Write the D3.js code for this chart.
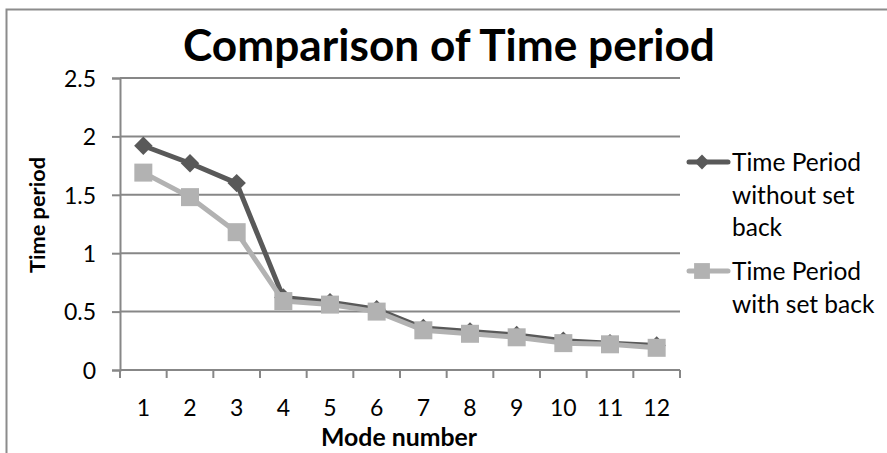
<!DOCTYPE html>
<html>
<head>
<meta charset="utf-8">
<script src="https://cdn.jsdelivr.net/npm/d3@7"></script>
<style>
  html, body { margin: 0; padding: 0; background: #fff; }
  svg { display: block; }
  text { font-family: Lato, "Open Sans", sans-serif; fill: #000; }
</style>
</head>
<body>
<svg id="chart" width="887" height="453"></svg>
<script>
const modes = ["1","2","3","4","5","6","7","8","9","10","11","12"];
const withoutSetBack = [1.92, 1.77, 1.60, 0.62, 0.58, 0.52, 0.36, 0.33, 0.30, 0.25, 0.23, 0.21];
const withSetBack    = [1.69, 1.48, 1.18, 0.59, 0.56, 0.50, 0.34, 0.31, 0.28, 0.23, 0.22, 0.19];
const yTicks = [0, 0.5, 1, 1.5, 2, 2.5];
const seriesNames = [["Time Period", "without set", "back"], ["Time Period", "with set back"]];
const chartTitle = "Comparison of Time period";
const xTitle = "Mode number";
const yTitle = "Time period";

const svg = d3.select("#chart");
const margin = {left: 120, right: 680, top: 78, bottom: 370};

// scale a text's font size so its rendered width matches a target width
function fitWidth(sel, target) {
  const n = sel.node();
  const w = n.getComputedTextLength();
  const fs = parseFloat(sel.attr("font-size"));
  sel.attr("font-size", (fs * target / w).toFixed(2));
  return sel;
}

// outer chart border
svg.append("rect").attr("x", 6.5).attr("y", 9.5).attr("width", 1000).attr("height", 1000)
  .attr("fill", "none").attr("stroke", "#8c8c8c").attr("stroke-width", 2);

const x = d3.scaleBand().domain(modes).range([margin.left, margin.right]);
const y = d3.scaleLinear().domain([0, 2.5]).range([margin.bottom, margin.top]);

const gridColor = "#878787";

// gridlines
svg.append("g").selectAll("line").data(yTicks.filter(d => d > 0)).join("line")
  .attr("x1", margin.left).attr("x2", margin.right)
  .attr("y1", d => y(d)).attr("y2", d => y(d))
  .attr("stroke", gridColor).attr("stroke-width", 2);

// y axis
const yAxis = svg.append("g").attr("transform", `translate(${margin.left},0)`)
  .call(d3.axisLeft(y).tickValues(yTicks).tickSize(8).tickPadding(16).tickFormat(d3.format("")));
yAxis.select(".domain").attr("stroke", gridColor).attr("stroke-width", 2);
yAxis.selectAll(".tick line").attr("stroke", gridColor).attr("stroke-width", 2);
yAxis.selectAll(".tick text").attr("font-size", 23).attr("font-family", "Lato, sans-serif").attr("fill", "#000").attr("dy", "0.36em");

// x axis
const xAxis = svg.append("g").attr("transform", `translate(0,${margin.bottom})`)
  .call(d3.axisBottom(x).tickSize(0).tickPadding(30));
xAxis.select(".domain").remove();
xAxis.append("line").attr("x1", margin.left).attr("x2", margin.right).attr("stroke", gridColor).attr("stroke-width", 2);
xAxis.selectAll(".tick text").attr("font-size", 23).attr("font-family", "Lato, sans-serif").attr("fill", "#000").attr("dy", "0.7em");
const bounds = modes.map(m => x(m)).concat([x(modes[modes.length-1]) + x.bandwidth()]);
xAxis.append("g").selectAll("line").data(bounds).join("line")
  .attr("x1", d => d).attr("x2", d => d).attr("y1", 0).attr("y2", 8)
  .attr("stroke", gridColor).attr("stroke-width", 2);

const cx = (d, i) => x(modes[i]) + x.bandwidth() / 2;
const line = d3.line().x((d, i) => cx(d, i)).y(d => y(d));

const darkColor = "#595959";
const lightColor = "#b2b2b2";

svg.append("path").datum(withoutSetBack).attr("d", line)
  .attr("fill", "none").attr("stroke", darkColor).attr("stroke-width", 5).attr("stroke-linejoin", "round");
svg.append("g").selectAll("path").data(withoutSetBack).join("path")
  .attr("d", d3.symbol(d3.symbolSquare, 170))
  .attr("transform", (d, i) => `translate(${cx(d, i)},${y(d)}) rotate(45)`)
  .attr("fill", darkColor);

svg.append("path").datum(withSetBack).attr("d", line)
  .attr("fill", "none").attr("stroke", lightColor).attr("stroke-width", 5).attr("stroke-linejoin", "round");
svg.append("g").selectAll("rect").data(withSetBack).join("path")
  .attr("d", d3.symbol(d3.symbolSquare, 324))
  .attr("transform", (d, i) => `translate(${cx(d, i)},${y(d)})`)
  .attr("fill", lightColor);

// title
fitWidth(svg.append("text").attr("x", 449).attr("y", 61).attr("text-anchor", "middle")
  .attr("font-size", 44).attr("font-weight", "bold").text(chartTitle), 532);

// axis titles
fitWidth(svg.append("text").attr("x", 399).attr("y", 446).attr("text-anchor", "middle")
  .attr("font-size", 24).attr("font-weight", "bold").text(xTitle), 156);
fitWidth(svg.append("text").attr("transform", "translate(45,215) rotate(-90)").attr("text-anchor", "middle")
  .attr("font-size", 22).attr("font-weight", "bold").text(yTitle), 116);

// legend
const legendY = [162, 271];
const legendColors = [darkColor, lightColor];
legendY.forEach((ly, k) => {
  const g = svg.append("g");
  g.append("line").attr("x1", 689).attr("x2", 728).attr("y1", ly).attr("y2", ly)
    .attr("stroke", legendColors[k]).attr("stroke-width", 5).attr("stroke-linecap", "round");
  if (k === 0) {
    g.append("path").attr("d", d3.symbol(d3.symbolSquare, 110)).attr("transform", `translate(702,${ly}) rotate(45)`).attr("fill", darkColor);
  } else {
    g.append("path").attr("d", d3.symbol(d3.symbolSquare, 250)).attr("transform", `translate(702,${ly})`).attr("fill", lightColor);
  }
  seriesNames[k].forEach((t, j) => {
    g.append("text").attr("x", 732).attr("y", ly + 9 + j * 32.5).attr("font-size", 24.5).text(t);
  });
});
</script>
</body>
</html>
